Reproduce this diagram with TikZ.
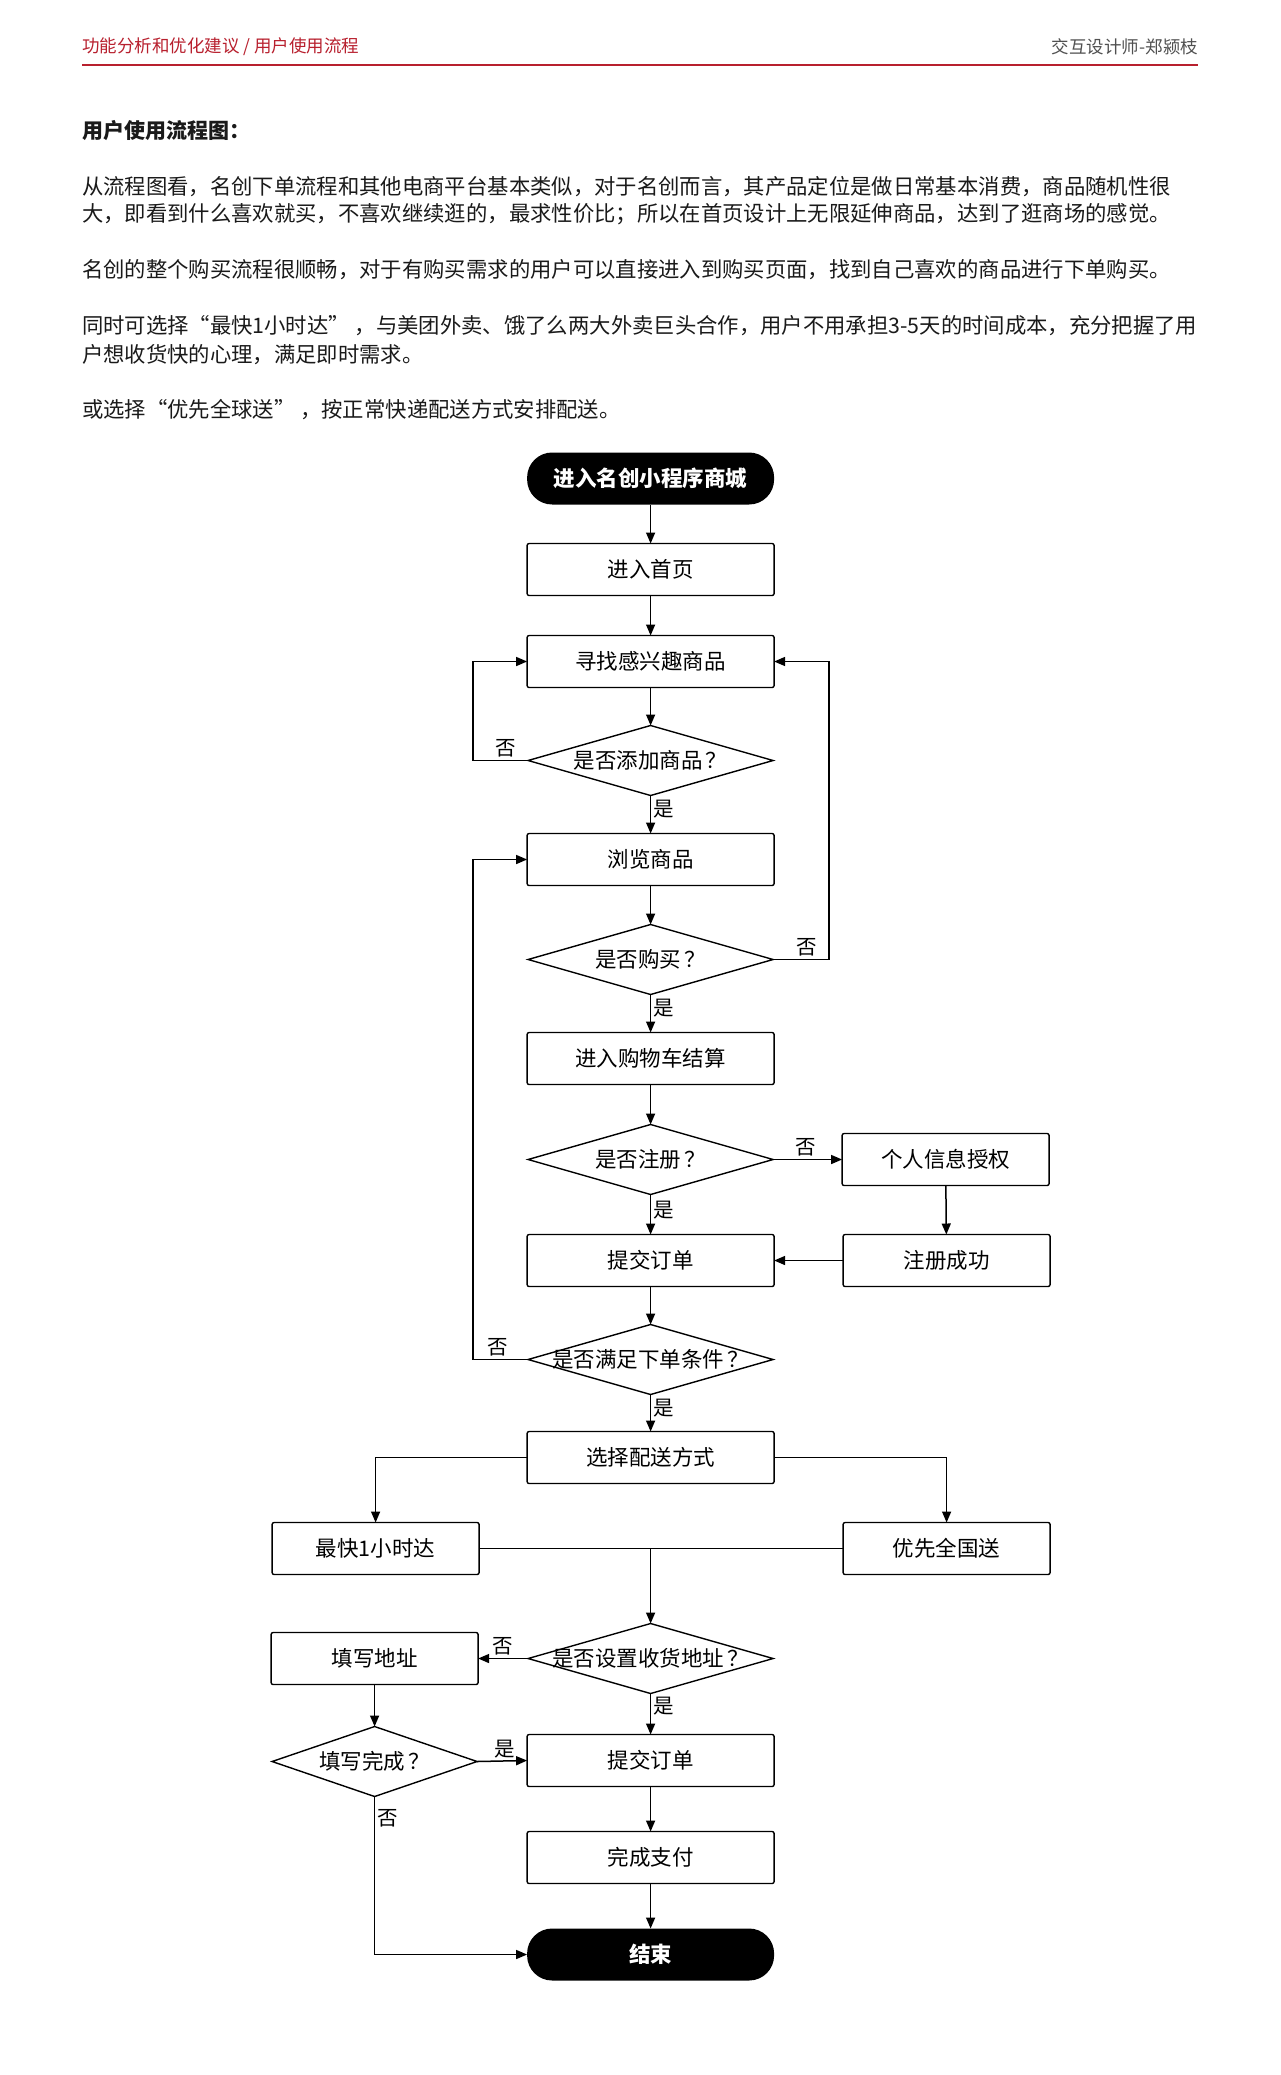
\documentclass[tikz,border=0pt]{standalone}
\usepackage{fontspec}
\setmainfont{Noto Sans CJK SC}
\usepackage{xcolor}
\usepackage{tikz}
\usetikzlibrary{arrows.meta,positioning,shapes.geometric}
\definecolor{HeadRed}{HTML}{B8202E}
\definecolor{HeadGray}{HTML}{505050}
\definecolor{BodyBlack}{HTML}{1A1A1A}

\begin{document}
\begin{tikzpicture}[x=1pt, y=-1pt,
    every node/.style={inner sep=0pt, outer sep=0pt},
    flowbox/.style={draw, line width=1.4pt, rounded corners=2pt, minimum width=247pt, minimum height=52pt, font=\fontsize{21.5}{26}\selectfont},
    sidebox/.style={flowbox, minimum width=207pt},
    asks/.style={draw, diamond, line width=1.4pt, minimum width=245pt, minimum height=70pt, label={[font=\fontsize{21.5}{26}\selectfont]center:#1}},
    terminal/.style={fill=black, rounded corners=25pt, minimum width=247pt, minimum height=52pt, text=white, font=\fontsize{21.5}{26}\selectfont\bfseries},
    arrow/.style={-{Triangle[length=11pt,width=9pt]}, line width=1.5pt},
    plain/.style={line width=1.5pt},
    yesno/.style={font=\fontsize{20.5}{24}\selectfont, inner sep=3pt},
    bodytext/.style={anchor=west, text=BodyBlack, font=\fontsize{21.35}{26}\selectfont}]
  \fill[white] (0,0) rectangle (1280,2075);
  \useasboundingbox (0,0) rectangle (1280,2075);

  % header
  \node[anchor=west, text=HeadRed, font=\fontsize{17.5}{21}\selectfont] (section) at (82,47) {功能分析和优化建议 / 用户使用流程};
  \node[anchor=east, text=HeadGray, font=\fontsize{17.5}{21}\selectfont] (author) at (1198,47) {交互设计师-郑颍枝};
  \draw[HeadRed, line width=2.5pt] (82,65) -- (1198,65);

  % intro text
  \node[bodytext, font=\fontsize{21}{26}\selectfont\bfseries] (title) at (82,131) {用户使用流程图：};
  \node[bodytext] (introa) at (82,187) {从流程图看，名创下单流程和其他电商平台基本类似，对于名创而言，其产品定位是做日常基本消费，商品随机性很};
  \node[bodytext] (introb) at (82,214) {大，即看到什么喜欢就买，不喜欢继续逛的，最求性价比；所以在首页设计上无限延伸商品，达到了逛商场的感觉。};
  \node[bodytext] (smooth) at (82,270) {名创的整个购买流程很顺畅，对于有购买需求的用户可以直接进入到购买页面，找到自己喜欢的商品进行下单购买。};
  \node[bodytext] (fasta) at (82,326) {同时可选择“最快1小时达” ，与美团外卖、饿了么两大外卖巨头合作，用户不用承担3-5天的时间成本，充分把握了用};
  \node[bodytext] (fastb) at (82,355) {户想收货快的心理，满足即时需求。};
  \node[bodytext] (ship) at (82,410) {或选择“优先全球送” ，按正常快递配送方式安排配送。};

  % main column
  \node[terminal] (start) at (650.6,478.5) {进入名创小程序商城};
  \node[flowbox, below=39pt of start] (home) {进入首页};
  \node[flowbox, below=40pt of home] (find) {寻找感兴趣商品};
  \node[asks={是否添加商品\kern3pt？}, below=38pt of find] (addq) {};
  \node[flowbox, below=38pt of addq] (browse) {浏览商品};
  \node[asks={是否购买\kern3pt？}, below=39pt of browse] (buyq) {};
  \node[flowbox, below=38pt of buyq] (cart) {进入购物车结算};
  \node[asks={是否注册\kern3pt？}, below=40pt of cart] (regq) {};
  \node[flowbox, below=40pt of regq] (submit) {提交订单};
  \node[asks={是否满足下单条件\kern3pt？}, below=38pt of submit] (condq) {};
  \node[flowbox, below=37pt of condq] (choose) {选择配送方式};
  \node[sidebox, right=69pt of regq] (auth) {个人信息授权};
  \node[sidebox, right=69pt of submit] (regok) {注册成功};
  \node[sidebox, below left=39pt and 48pt of choose] (fast) {最快1小时达};
  \node[sidebox, below right=39pt and 69pt of choose] (national) {优先全国送};
  \node[asks={是否设置收货地址\kern3pt？}, below=140pt of choose] (addrq) {};
  \node[sidebox, left=50pt of addrq] (fill) {填写地址};
  \node[asks={填写完成\kern3pt？}, minimum width=205pt, below=42pt of fill] (doneq) {};
  \node[flowbox, below=41pt of addrq] (submitb) {提交订单};
  \node[flowbox, below=45pt of submitb] (pay) {完成支付};
  \node[terminal, below=45pt of pay] (finish) {结束};

  % connectors
  \draw[arrow] (start) -- (home);
  \draw[arrow] (home) -- (find);
  \draw[arrow] (find) -- (addq);
  \draw[arrow] (addq) -- node[yesno, right, pos=0.35]{是} (browse);
  \draw[arrow] (addq.west) -- node[yesno, above, pos=0.4]{否} ++(-55pt,0) |- (find.west);
  \draw[arrow] (browse) -- (buyq);
  \draw[arrow] (buyq) -- node[yesno, right, pos=0.35]{是} (cart);
  \draw[arrow] (buyq.east) -- node[yesno, above, pos=0.6]{否} ++(56pt,0) |- (find.east);
  \draw[arrow] (cart) -- (regq);
  \draw[arrow] (regq) -- node[yesno, right, pos=0.38]{是} (submit);
  \draw[arrow] (regq.east) -- node[yesno, above, pos=0.48]{否} (auth.west);
  \draw[arrow] (auth) -- (regok);
  \draw[arrow] (regok) -- (submit);
  \draw[arrow] (submit) -- (condq);
  \draw[arrow] (condq) -- node[yesno, right, pos=0.38]{是} (choose);
  \draw[arrow] (condq.west) -- node[yesno, above, pos=0.55]{否} ++(-55pt,0) |- (browse.west);
  \draw[arrow] (choose.west) -| (fast.north);
  \draw[arrow] (choose.east) -| (national.north);
  \draw[plain] (fast.east) -- (national.west);
  \draw[arrow] (addrq.north |- fast.east) -- (addrq.north);
  \draw[arrow] (addrq.west) -- node[yesno, above, pos=0.5]{否} (fill.east);
  \draw[arrow] (addrq) -- node[yesno, right, pos=0.3]{是} (submitb);
  \draw[arrow] (fill) -- (doneq);
  \draw[arrow] (doneq.east) -- node[yesno, above, pos=0.56]{是} (submitb.west);
  \draw[arrow] (doneq.south) |- node[yesno, right, pos=0.07]{否} (finish.west);
  \draw[arrow] (submitb) -- (pay);
  \draw[arrow] (pay) -- (finish);
\end{tikzpicture}
\end{document}
